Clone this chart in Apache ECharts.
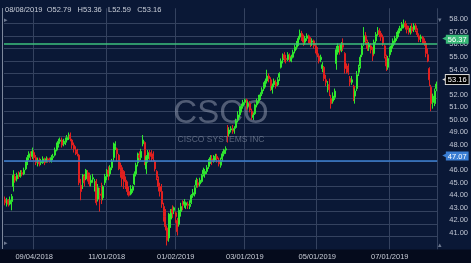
<!DOCTYPE html>
<html><head><meta charset="utf-8">
<script src="https://cdn.jsdelivr.net/npm/echarts@6/dist/echarts.min.js"></script>
<style>html,body{margin:0;padding:0;background:#0a1836;}#c{width:471px;height:263px;}</style>
</head><body><div id="c"></div>
<script>
// ---------- data ----------
const startDate = '2018-08-09';
const endDate = '2019-08-08';
const holidays = ['2018-09-03','2018-11-22','2018-12-05','2018-12-25','2019-01-01','2019-01-21','2019-02-18','2019-04-19','2019-05-27','2019-07-04'];
const xTickLabels = ['09/04/2018','11/01/2018','01/02/2019','03/01/2019','05/01/2019','07/01/2019'];
const yTickLabels = ['41.00','42.00','43.00','44.00','45.00','46.00','47.00','48.00','49.00','50.00','51.00','52.00','53.00','54.00','55.00','56.00','57.00','58.00'];
const header = ['08/08/2019', 'O52.79', 'H53.36', 'L52.59', 'C53.16'];
const levelGreen = 56.37;
const levelBlue = 47.07;
const lastClose = 53.16;
const watermark = ['CSCO', 'CISCO SYSTEMS INC'];
// [open, close, low, high]
const candles = [
[44.0,43.7,43.5,44.2],[43.6,43.9,43.4,44.1],[43.9,43.6,43.4,44.0],[43.6,43.9,43.5,44.2],[43.8,44.2,43.1,44.4],
[45.0,45.9,44.6,46.3],[45.8,45.5,45.3,46.0],[45.6,45.9,45.4,46.1],[45.9,45.8,45.6,46.2],[45.8,46.1,45.7,46.3],
[46.1,46.0,45.8,46.3],[46.0,46.3,45.9,46.5],[46.4,46.8,46.3,47.0],[46.8,47.3,46.7,47.5],[47.3,47.6,47.1,47.8],
[47.6,47.4,47.1,47.8],[47.4,47.8,47.2,48.1],[47.7,47.3,47.0,47.9],[47.3,46.9,46.7,47.5],[46.9,47.1,46.6,47.3],
[47.0,46.8,46.6,47.3],[46.9,47.0,46.7,47.2],[46.9,47.2,46.8,47.4],[47.2,46.9,46.7,47.3],[47.0,47.2,46.9,47.4],
[47.2,47.1,46.9,47.3],[47.1,47.0,46.9,47.3],[47.0,47.3,46.9,47.5],[47.3,47.4,47.1,47.6],[47.5,47.9,47.4,48.1],
[47.9,48.3,47.8,48.5],[48.3,48.6,48.1,48.8],[48.6,48.7,48.4,48.9],[48.7,48.3,48.1,48.9],[48.4,48.5,48.2,48.8],
[48.5,48.6,48.3,48.9],[48.7,48.9,48.5,49.1],[48.9,49.1,48.7,49.3],[49.1,48.8,48.6,49.3],[48.7,48.3,48.0,48.8],
[48.3,48.0,47.7,48.5],[47.9,47.8,47.5,48.2],[47.8,47.6,47.4,48.0],[47.5,45.3,45.1,47.6],[45.1,44.6,43.9,45.6],
[45.3,45.9,44.8,46.0],[45.8,45.3,45.0,46.0],[45.6,46.3,45.5,46.4],[46.1,45.9,45.4,46.3],[45.9,45.2,45.0,46.1],
[45.3,45.5,45.0,45.9],[45.6,45.7,45.3,46.0],[45.2,45.4,44.6,45.6],[45.4,43.7,43.5,45.6],[44.0,44.9,43.8,45.2],
[44.4,44.3,43.0,44.9],[44.6,44.0,43.6,45.3],[44.1,45.0,43.9,45.1],[45.3,45.8,45.1,46.0],[45.8,46.2,45.5,46.4],
[46.3,46.0,45.5,46.6],[46.0,46.5,45.8,46.7],[46.5,47.0,46.3,47.2],[47.3,48.3,47.0,48.5],[48.2,48.4,47.9,48.6],
[48.0,47.6,47.0,48.1],[47.5,46.4,46.3,47.6],[46.5,46.2,45.7,46.9],[46.5,45.6,45.0,46.7],[46.2,45.4,44.8,46.3],
[45.5,45.1,44.8,45.8],[45.2,44.6,44.3,45.4],[44.6,44.3,44.2,45.0],[44.4,44.8,44.3,45.1],[44.7,45.0,44.5,45.1],
[45.2,46.0,45.1,46.2],[46.0,46.7,45.8,46.9],[46.9,47.6,46.6,47.7],[47.5,47.3,47.0,47.8],[47.3,47.8,47.1,48.0],
[48.4,48.7,48.2,49.1],[48.5,46.9,46.7,48.6],[46.4,47.4,46.0,47.5],[47.2,47.7,46.9,47.9],[47.7,47.4,47.1,47.9],
[47.6,47.3,47.0,47.9],[47.4,47.2,47.0,47.8],[47.0,46.4,46.2,47.1],[46.2,45.7,45.5,46.3],[45.6,45.0,44.6,45.8],
[45.0,44.6,44.2,45.3],[44.6,43.6,43.3,45.2],[43.4,42.6,42.2,43.7],[42.6,41.8,41.5,43.2],[41.7,40.7,40.3,41.9],
[40.9,42.8,40.6,42.9],[42.4,43.1,41.7,43.2],[43.2,42.9,42.5,43.5],[43.1,43.3,42.8,43.4],[42.9,42.6,42.1,43.0],
[42.3,41.4,41.1,42.5],[42.0,43.1,41.8,43.3],[43.0,43.4,42.6,43.7],[43.7,43.5,43.1,43.9],[43.6,43.8,43.3,44.0],
[43.5,43.7,43.2,43.8],[43.6,43.5,43.2,43.8],[43.4,43.6,43.2,43.9],[43.7,44.3,43.6,44.4],[44.3,44.5,44.1,44.8],
[44.4,44.9,44.2,45.1],[45.1,45.5,44.9,45.7],[45.3,45.1,44.9,45.6],[45.2,45.5,45.0,45.7],[45.4,45.9,45.3,46.0],
[46.0,46.3,45.8,46.5],[46.0,46.2,45.7,46.4],[46.2,46.5,46.0,46.7],[46.6,47.0,46.4,47.2],[47.0,47.3,46.8,47.5],
[47.2,47.0,46.7,47.5],[47.0,47.3,46.9,47.5],[47.3,47.4,47.1,47.6],[47.4,47.2,46.9,47.6],[47.1,46.8,46.6,47.3],
[46.7,47.1,46.5,47.3],[47.2,47.6,47.0,47.8],[47.6,47.9,47.4,48.0],[47.9,48.0,47.6,48.2],[49.7,49.0,48.5,49.9],
[49.2,49.5,49.0,49.7],[49.5,49.6,49.3,49.8],[49.6,49.4,49.2,49.9],[49.5,49.6,49.2,49.8],[49.7,50.2,49.6,50.4],
[50.3,50.7,50.1,51.0],[50.7,51.2,50.5,51.4],[51.1,51.4,50.9,51.6],[51.4,51.7,51.2,51.9],[51.7,51.9,51.5,52.0],
[51.9,51.4,51.1,52.0],[51.4,51.6,51.2,51.8],[51.6,51.1,50.9,51.8],[51.0,50.6,50.3,51.2],[50.5,50.7,50.3,50.9],
[50.8,51.5,50.7,51.6],[51.5,51.8,51.3,52.0],[51.8,52.1,51.6,52.3],[52.1,52.3,51.9,52.5],[52.4,52.7,52.2,52.9],
[52.8,53.1,52.6,53.3],[53.1,53.4,52.9,53.6],[53.4,53.8,53.2,54.3],[53.8,53.6,53.3,54.0],[53.5,52.8,52.6,53.7],
[52.7,53.0,52.4,53.2],[53.1,53.4,52.9,53.6],[53.3,53.0,52.8,53.5],[53.1,53.5,53.0,53.7],[53.7,54.0,53.4,54.1],
[54.5,55.0,54.4,55.2],[55.1,55.4,54.8,55.6],[55.5,55.2,54.9,55.7],[55.2,55.1,54.8,55.5],[55.1,55.5,55.0,55.7],
[55.4,55.1,54.9,55.6],[55.0,55.3,54.9,55.5],[55.3,55.7,55.2,55.9],[55.8,56.1,55.6,56.3],[56.1,56.4,55.9,56.6],
[56.4,56.8,56.2,57.0],[56.9,57.2,56.7,57.5],[57.2,56.9,56.6,57.4],[56.9,56.5,56.2,57.1],[56.5,56.8,56.3,57.0],
[56.8,57.0,56.6,57.2],[57.0,56.7,56.4,57.1],[56.7,56.4,56.1,56.9],[56.5,56.6,56.2,56.8],[56.6,56.2,56.0,56.7],
[56.2,55.9,55.6,56.4],[55.9,55.5,55.3,56.1],[55.4,55.0,54.8,55.6],[55.1,55.3,54.9,55.5],[54.4,54.7,54.1,54.9],
[54.5,53.6,53.4,54.6],[53.5,53.3,53.0,53.9],[53.0,53.1,52.5,53.4],[53.1,52.7,52.2,53.6],[52.0,51.6,51.2,52.3],
[51.8,52.2,51.6,52.5],[52.1,52.6,51.9,52.8],[54.8,55.9,54.3,56.2],[55.7,56.2,55.5,56.4],[56.0,55.8,55.5,56.3],
[55.9,56.3,55.7,56.5],[56.4,56.1,55.8,56.8],[55.6,54.4,54.0,55.7],[54.6,54.3,54.0,54.8],[54.5,54.1,53.9,54.8],
[53.6,53.3,53.0,53.8],[53.3,53.5,53.1,53.8],[53.0,52.1,51.8,53.1],[52.2,52.6,51.6,52.8],[52.8,53.9,52.6,54.2],
[54.1,54.5,53.8,54.7],[54.6,55.3,54.4,55.5],[55.5,56.2,55.3,56.4],[56.5,57.0,56.2,57.7],[57.0,56.6,56.3,57.3],
[56.5,56.0,55.8,56.7],[56.1,56.3,55.8,56.5],[56.2,55.9,55.6,56.4],[55.9,55.4,55.0,56.1],[55.6,56.5,55.5,56.7],
[56.6,57.1,56.4,57.3],[57.3,57.4,57.0,57.7],[57.4,57.1,56.9,57.6],[57.2,56.9,56.6,57.4],[56.9,56.4,56.2,57.1],
[56.2,55.4,55.2,56.3],[55.3,54.6,54.2,55.5],[54.5,55.2,54.3,55.4],[55.5,55.9,55.3,56.1],[55.9,56.2,55.7,56.4],
[56.2,56.6,56.0,56.8],[56.5,56.8,56.3,57.0],[56.8,57.1,56.6,57.3],[57.1,57.4,56.9,57.6],[57.4,57.6,57.2,57.8],
[57.6,57.9,57.4,58.1],[57.9,58.0,57.6,58.3],[58.0,57.7,57.5,58.2],[57.8,57.5,57.2,58.0],[57.5,57.3,57.1,57.8],
[57.3,57.6,57.1,57.8],[57.7,57.4,57.2,58.0],[57.5,57.8,57.3,58.0],[57.8,57.5,57.3,58.0],[57.4,57.1,56.9,57.6],
[57.0,56.7,56.5,57.2],[56.8,56.9,56.5,57.1],[56.9,56.6,56.4,57.0],[56.6,56.4,56.2,56.8],[56.4,55.6,55.3,56.6],
[55.5,55.0,54.9,56.0],[54.4,53.5,53.0,54.5],[52.9,51.6,51.0,53.1],[51.7,52.2,51.2,52.4],[51.6,52.6,51.4,52.8],
[52.79,53.16,52.59,53.36]
];

// ---------- trading-day categories ----------
function fmt(d){const m=String(d.getUTCMonth()+1).padStart(2,'0');const dd=String(d.getUTCDate()).padStart(2,'0');return m+'/'+dd+'/'+d.getUTCFullYear();}
const dates = [];
for (let d = new Date(startDate+'T00:00:00Z'); d <= new Date(endDate+'T00:00:00Z'); d.setUTCDate(d.getUTCDate()+1)) {
  const wd = d.getUTCDay();
  const iso = d.toISOString().slice(0,10);
  if (wd === 0 || wd === 6 || holidays.includes(iso)) continue;
  dates.push(fmt(d));
}

const FONT = 'Liberation Sans, Arial, sans-serif';
const gridColors = [];
for (let v = 40; v <= 59; v++) gridColors.push(yTickLabels.includes(v.toFixed(2)) ? '#34425f' : 'rgba(0,0,0,0)');
gridColors.push('rgba(0,0,0,0)');

function tag(bg, border) {
  return {show:true, position:'end', distance:5, verticalAlign:'bottom',
    formatter: p => '{a|\u25C0}{b|' + p.value.toFixed(2) + '}',
    rich: {
      a: {color: border || bg, fontSize: 6, fontFamily: 'DejaVu Sans', padding:[0,-1,1,0]},
      b: {color:'#ffffff', backgroundColor:bg, borderColor:border || bg, borderWidth: border ? 1 : 0,
          padding:[1,2,0,2], fontSize:7.5, fontFamily:FONT}
    }};
}

const chart = echarts.init(document.getElementById('c'), null, {renderer:'canvas'});
chart.setOption({
  backgroundColor: '#0a1836',
  animation: false,
  textStyle: {fontFamily: FONT},
  grid: {left: 4, right: 33, top: 8.24, bottom: 13.75},
  graphic: [
    {type:'rect', z:-10, shape:{x:0, y:249.5, width:471, height:14}, style:{fill:'#050b1c'}},
    {type:'line', z:5, shape:{x1:2.5, y1:8, x2:2.5, y2:249}, style:{stroke:'#7d889c', lineWidth:1}},
    {type:'text', z:1, x:221, y:114, style:{text:watermark[0], fontSize:33, fontFamily:FONT, fill:'rgba(140,150,170,0.55)', align:'center', verticalAlign:'middle'}},
    {type:'text', z:1, x:221, y:139.5, style:{text:watermark[1], fontSize:8.5, fontFamily:FONT, fill:'rgba(140,150,170,0.6)', align:'center', verticalAlign:'middle'}},
    {type:'text', z:6, x:5, y:9.5, style:{text:header.join('   ').replace('   ','  '), fontSize:7.5, fontFamily:FONT, fill:'#c8cdd8', verticalAlign:'middle'}},
    {type:'text', z:6, x:4, y:20, style:{text:'\u25B8', fontSize:7, fill:'#6c7890', verticalAlign:'middle'}},
    {type:'text', z:6, x:4, y:243.5, style:{text:'\u25B8', fontSize:7, fill:'#6c7890', verticalAlign:'middle'}},
    {type:'text', z:6, x:440, y:20, style:{text:'\u25BE', fontSize:7, fill:'#6c7890', align:'center', verticalAlign:'middle'}},
    {type:'text', z:6, x:440, y:245.5, style:{text:'\u25B4', fontSize:7, fill:'#6c7890', align:'center', verticalAlign:'middle'}}
  ],
  xAxis: {
    type: 'category', data: dates, boundaryGap: true,
    axisLine: {show:false}, axisTick: {show:false},
    axisLabel: {interval: (i, v) => xTickLabels.includes(v), color:'#c8ccd6', fontSize:7.5, margin:3.5, fontFamily:FONT},
    splitLine: {show:true, interval: (i, v) => xTickLabels.includes(v), lineStyle:{color:'#34425f', width:1}}
  },
  yAxis: {
    type: 'value', position: 'right', min: 40, max: 59.2, interval: 1, scale: true,
    axisLine: {show:false}, axisTick: {show:false},
    axisLabel: {margin: 12, color:'#c0c6d4', fontSize:7.5, fontFamily:FONT, verticalAlign:'bottom',
      formatter: v => yTickLabels.includes(Number(v).toFixed(2)) && Number.isInteger(v) ? Number(v).toFixed(2) : ''},
    splitLine: {show:true, lineStyle:{color: gridColors, width:1}}
  },
  series: [{
    type: 'candlestick',
    data: candles,
    barWidth: 1.5,
    itemStyle: {color:'#2fe82f', color0:'#e02020', borderColor:'#2fe82f', borderColor0:'#e02020', borderWidth:1},
    markLine: {
      silent: true, symbol: ['none','none'], animation:false,
      data: [
        {yAxis: levelGreen, lineStyle:{color:'#3cc07c', width:1.5, type:'solid'}, label: tag('#38b877')},
        {yAxis: levelBlue, lineStyle:{color:'#3b7fd0', width:1.5, type:'solid'}, label: tag('#3a7ed4')},
        {yAxis: lastClose, lineStyle:{color:'rgba(0,0,0,0)', width:0}, label: tag('#000000', '#d8d8d8')}
      ]
    }
  }]
});
</script></body></html>
